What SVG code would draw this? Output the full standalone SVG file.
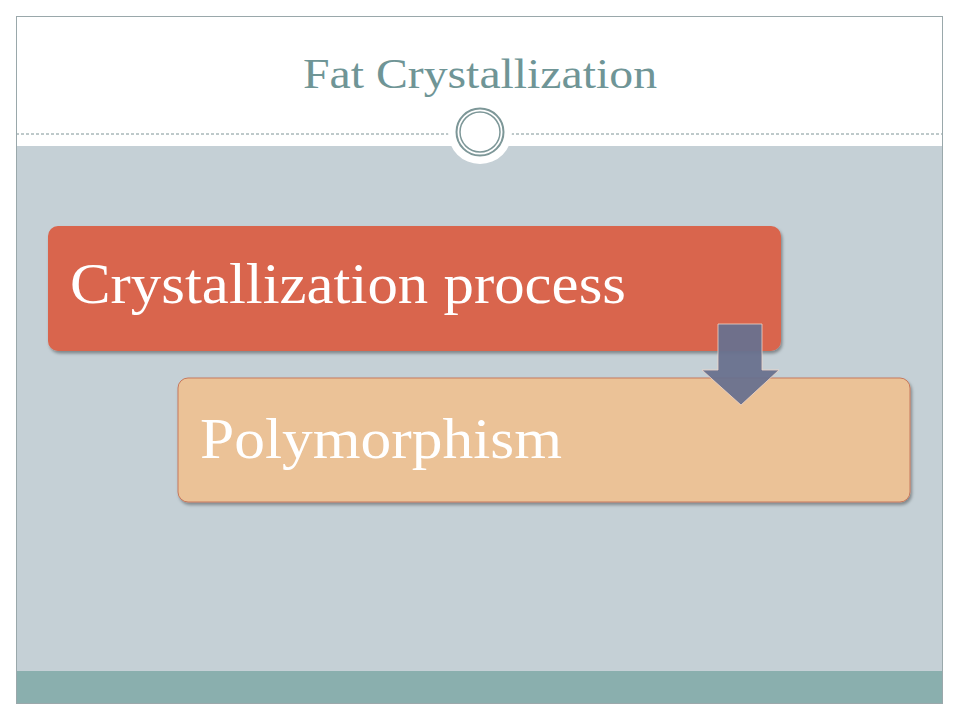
<svg xmlns="http://www.w3.org/2000/svg" width="960" height="720" viewBox="0 0 960 720">
<defs>
<style>
.frame{fill:none;stroke:#9aa8ab;stroke-width:1}
.box-text{font-family:"Liberation Serif","DejaVu Serif",serif;fill:#ffffff}
.title{font-family:"Liberation Serif","DejaVu Serif",serif;fill:#6f9596;font-size:42px}
</style>
<filter id="sh" x="-5%" y="-10%" width="110%" height="130%">
<feDropShadow dx="1.5" dy="2.5" stdDeviation="1.8" flood-color="#000" flood-opacity="0.35"/>
</filter>
</defs>
<rect x="0" y="0" width="960" height="720" fill="#ffffff"/>
<g id="background">
<rect x="16" y="146" width="927" height="525" fill="#c5d0d6"/>
<rect x="16" y="671" width="927" height="32" fill="#8aafae"/>
<line x1="16" y1="134" x2="943" y2="134" stroke="#7f9496" stroke-width="1" stroke-dasharray="3,2"/>
<rect class="frame" x="16.5" y="16.5" width="926" height="687"/>
<circle cx="480" cy="132" r="32" fill="#ffffff"/>
<circle cx="480" cy="132" r="23.5" fill="none" stroke="#7d9798" stroke-width="2"/>
<circle cx="480" cy="132" r="20" fill="none" stroke="#7d9798" stroke-width="1.5"/>
</g>
<g id="title">
<text class="title" x="480" y="88" text-anchor="middle" textLength="354" lengthAdjust="spacingAndGlyphs">Fat Crystallization</text>
</g>
<g id="node-crystallization">
<rect x="48" y="226" width="733" height="125" rx="10" fill="#d9654d" filter="url(#sh)"/>
<text class="box-text" x="70" y="303" font-size="58" textLength="556" lengthAdjust="spacingAndGlyphs">Crystallization process</text>
</g>
<g id="node-polymorphism">
<rect x="178" y="378" width="732" height="124" rx="10" fill="#ebc297" stroke="#c7785c" stroke-width="1" filter="url(#sh)"/>
<text class="box-text" x="200" y="458" font-size="58" textLength="362" lengthAdjust="spacingAndGlyphs">Polymorphism</text>
</g>
<g id="connectors">
<path d="M718,324 L762,324 L762,370 L779,370 L741,405 L702,370 L718,370 Z" fill="#69718e" fill-opacity="0.95" stroke="#f0d6c8" stroke-width="0.8"/>
</g>
</svg>
